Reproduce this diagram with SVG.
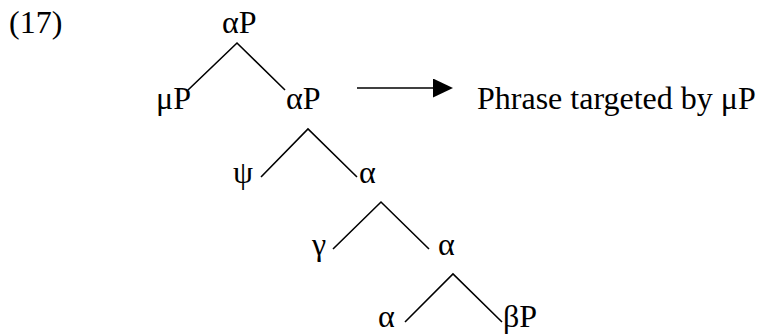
<svg xmlns="http://www.w3.org/2000/svg" width="759" height="334" viewBox="0 0 759 334">
<style>
text { font-family: "Liberation Serif", "Times New Roman", serif; font-size: 32px; fill: #000; }
.e { stroke: #000; stroke-width: 1.6; fill: none; }
</style>
<defs>
<marker id="ah" markerWidth="20" markerHeight="20" refX="0" refY="9.5" orient="auto" markerUnits="userSpaceOnUse">
<path d="M0,0 L20,9.5 L0,19 Z" fill="#000"/>
</marker>
</defs>
<rect width="759" height="334" fill="#fff"/>
<text id="label17" x="9" y="33">(17)</text>
<g id="connectors">
<path class="e" d="M188,90 L237,43 L285,90"/>
<path class="e" d="M261,177 L308,129 L357,177"/>
<path class="e" d="M333,249 L381,202 L429,249"/>
<path class="e" d="M405,322 L453,274 L502,322"/>
<line class="e" x1="357" y1="88" x2="433" y2="88" marker-end="url(#ah)"/>
</g>
<g id="n-aP-top"><text x="222" y="33">αP</text></g>
<g id="n-muP"><text x="156" y="109">μP</text></g>
<g id="n-aP-2"><text x="286" y="109">αP</text></g>
<g id="n-phrase"><text x="477" y="109">Phrase targeted by μP</text></g>
<g id="n-psi"><text x="233" y="183">ψ</text></g>
<g id="n-a3"><text x="359" y="183">α</text></g>
<g id="n-gamma"><text x="312" y="255">γ</text></g>
<g id="n-a4"><text x="438" y="255">α</text></g>
<g id="n-a5"><text x="378" y="327">α</text></g>
<g id="n-bP"><text x="503" y="327">βP</text></g>
</svg>
